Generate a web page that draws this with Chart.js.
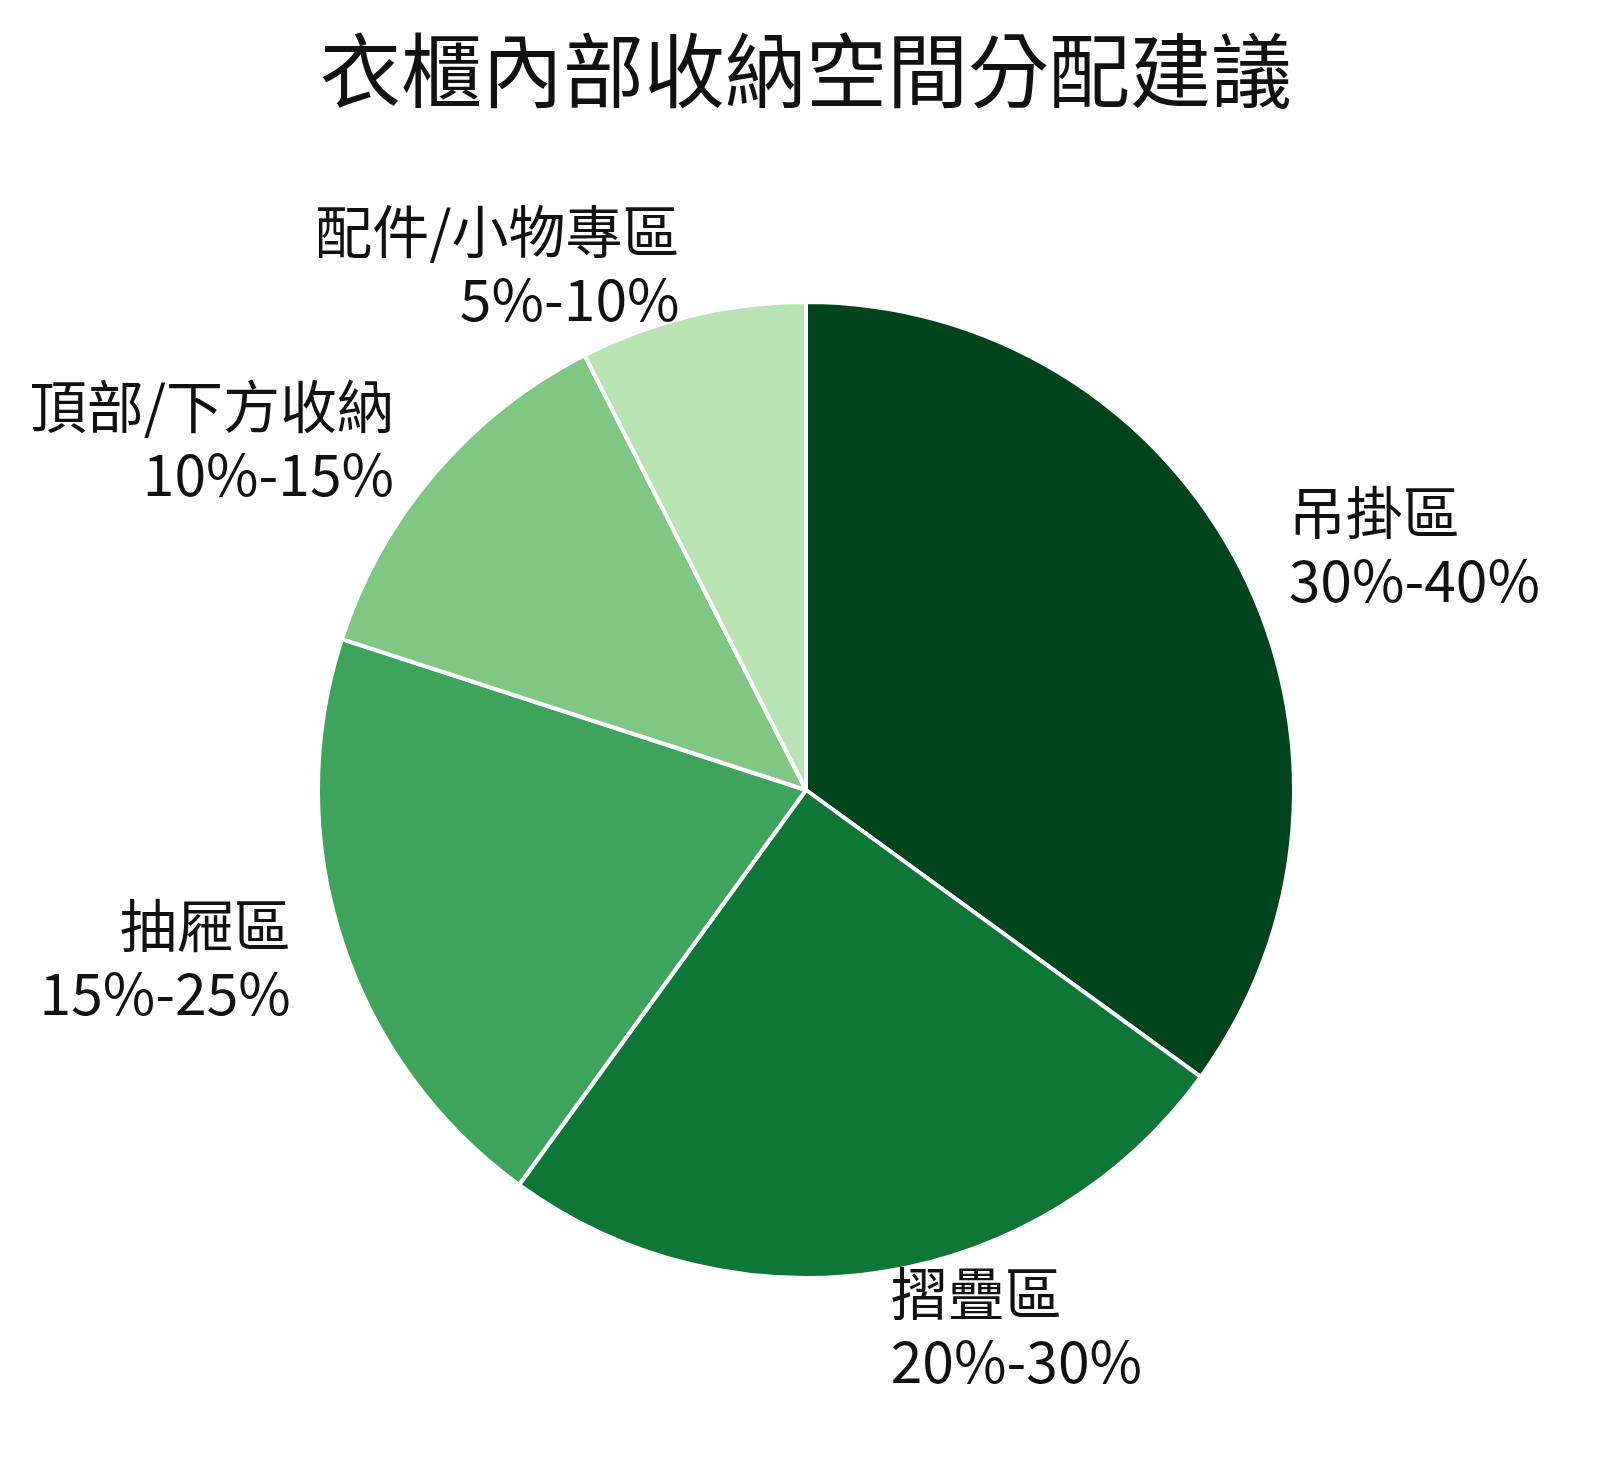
<!DOCTYPE html>
<html><head><meta charset="utf-8">
<script src="https://cdn.jsdelivr.net/npm/chart.js@4"></script>
<style>body{margin:0;background:#fff}</style>
</head><body>
<canvas id="c" width="1603" height="1468"></canvas>
<script>
// 資料
const labels = ['吊掛區', '摺疊區', '抽屜區', '頂部/下方收納', '配件/小物專區'];
const ranges = ['30%-40%', '20%-30%', '15%-25%', '10%-15%', '5%-10%'];
const values = [35, 25, 20, 12.5, 7.5];
const colors = ['#00441b', '#0e7636', '#3fa45b', '#81c784', '#b8e3b2'];
const font = '"Noto Sans CJK TC", "Noto Sans", sans-serif';

// 標題與外部標籤
const outLabels = {
  id: 'outLabels',
  afterDraw(chart) {
    const ctx = chart.ctx;
    ctx.save();
    ctx.fillStyle = '#111';
    ctx.font = '81px ' + font;
    ctx.textAlign = 'center';
    ctx.textBaseline = 'middle';
    ctx.fillText('衣櫃內部收納空間分配建議', 806, 70);
    ctx.font = '57px ' + font;
    chart.getDatasetMeta(0).data.forEach((arc, i) => {
      const a = (arc.startAngle + arc.endAngle) / 2;
      const r = arc.outerRadius * 1.11;
      const x = arc.x + Math.cos(a) * r;
      const y = arc.y + Math.sin(a) * r;
      ctx.textAlign = x >= arc.x ? 'left' : 'right';
      ctx.fillText(labels[i], x, y - 32);
      ctx.fillText(ranges[i], x, y + 36);
    });
    ctx.restore();
  }
};

new Chart(document.getElementById('c'), {
  type: 'pie',
  data: { labels, datasets: [{ data: values, backgroundColor: colors, borderColor: '#fff', borderWidth: 4 }] },
  options: {
    responsive: false,
    animation: false,
    layout: { padding: { left: 316, right: 307, top: 300, bottom: 188 } },
    plugins: { legend: { display: false }, tooltip: { enabled: false } }
  },
  plugins: [outLabels]
});
</script>
</body></html>
